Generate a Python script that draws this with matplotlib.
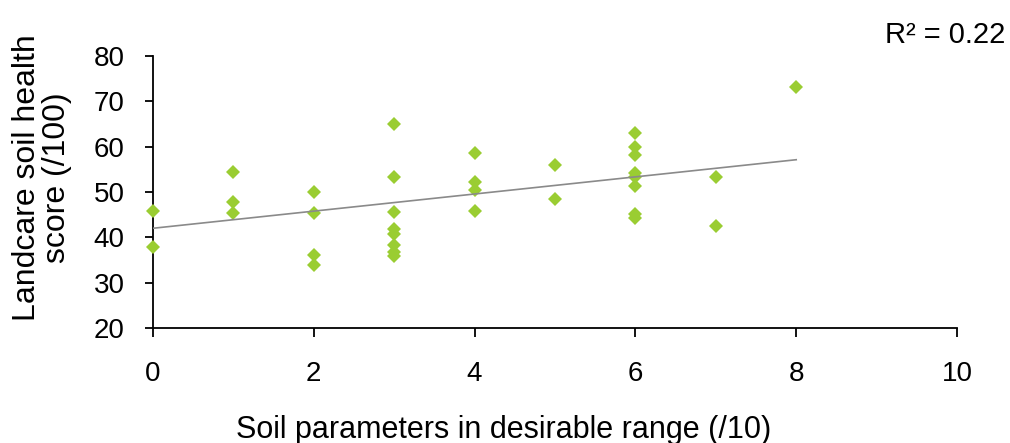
import matplotlib
matplotlib.use("Agg")
import matplotlib.pyplot as plt
import numpy as np

plt.rcParams['font.family'] = ['Liberation Sans', 'DejaVu Sans']

# Soil parameters in desirable range (/10) for each site
params_in_range = [0, 0,
                   1, 1, 1,
                   2, 2, 2, 2,
                   3, 3, 3, 3, 3, 3, 3, 3,
                   4, 4, 4, 4,
                   5, 5,
                   6, 6, 6, 6, 6, 6, 6, 6,
                   7, 7,
                   8]
# Landcare soil health score (/100) for each site
health_score = [45.9, 37.9,
                54.4, 47.9, 45.3,
                50.0, 45.3, 36.1, 33.8,
                65.0, 53.4, 45.5, 41.9, 40.8, 38.4, 36.8, 35.9,
                58.6, 52.1, 50.5, 45.7,
                56.0, 48.4,
                63.1, 59.9, 58.2, 54.3, 53.4, 51.3, 45.1, 44.2,
                53.3, 42.5,
                73.1]

# Linear trendline coefficients and fit statistic
trend_intercept = 42.0
trend_slope = 1.89
r_squared = 0.22

x_ticks = [0, 2, 4, 6, 8, 10]
y_ticks = [20, 30, 40, 50, 60, 70, 80]

W, H = 1010, 443
fig = plt.figure(figsize=(W / 100, H / 100), dpi=100)
ax = fig.add_axes([153 / W, 1 - 328 / H, (957 - 153) / W, (328 - 56) / H])

ax.plot(params_in_range, health_score, linestyle='none', marker='D',
        markersize=7.6, color='#9ACD32', markeredgewidth=0,
        clip_on=False, zorder=4)

x_fit = np.array([min(params_in_range), max(params_in_range)])
ax.plot(x_fit, trend_intercept + trend_slope * x_fit, color='#8a8a8a',
        linewidth=1.2, zorder=5)

ax.set_xlim(x_ticks[0], x_ticks[-1])
ax.set_ylim(y_ticks[0], y_ticks[-1])
ax.set_xticks(x_ticks)
ax.set_yticks(y_ticks)

for side in ('top', 'right'):
    ax.spines[side].set_visible(False)
for side in ('left', 'bottom'):
    ax.spines[side].set_linewidth(1.3)
    ax.spines[side].set_color('black')

ax.tick_params(axis='y', direction='out', length=5.5, width=1.3,
               labelsize=20, pad=15)
ax.tick_params(axis='x', direction='out', length=6.5, width=1.3,
               labelsize=20, pad=17)

fig.text(42 / W, 1 - 178 / H, 'Landcare soil health\nscore (/100)',
         rotation=90, ha='center', va='center', fontsize=23,
         linespacing=1.0, multialignment='center')
fig.text(504 / W, (H - 438) / H, 'Soil parameters in desirable range (/10)',
         ha='center', va='baseline', fontsize=22)
fig.text(1005 / W, (H - 43) / H, f'R² = {r_squared:.2f}',
         ha='right', va='baseline', fontsize=21)

fig.savefig('out.png', dpi=100, facecolor='white')
